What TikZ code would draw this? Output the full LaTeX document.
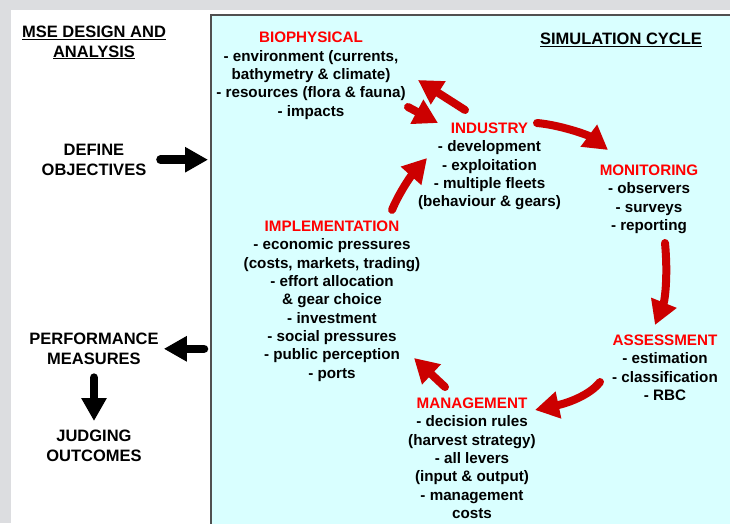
\documentclass[tikz,border=0pt]{standalone}
\usepackage{fontspec}
\setmainfont{Liberation Sans}
\usetikzlibrary{arrows.meta,positioning}
\definecolor{framegray}{RGB}{220,221,224}
\definecolor{cyclefill}{RGB}{217,255,255}
\definecolor{boxline}{RGB}{80,80,80}
\definecolor{titlered}{RGB}{255,0,0}
\definecolor{arrowred}{RGB}{204,0,0}
\newcommand{\ulhead}[1]{\setbox0\hbox{#1}\rlap{\rule[-2.2pt]{\wd0}{1.3pt}}\box0}
\newcommand{\bodysize}{\fontsize{15.2}{18.35}\selectfont\bfseries}
\newcommand{\headsize}{\fontsize{16.5}{19.5}\selectfont\bfseries}
\newcommand{\redtitle}[1]{\textcolor{titlered}{#1}}
\tikzset{
  block/.style={align=center, inner sep=0pt, anchor=north, font=\bodysize},
  sidetext/.style={align=center, inner sep=0pt, anchor=north, font=\headsize},
  cyclearrow/.style={draw=arrowred, line width=8pt, line cap=round,
    -{Triangle[length=24pt,width=26pt]}},
  sidearrow/.style={draw=black, line width=8.5pt, line cap=round,
    -{Triangle[length=23pt,width=24pt]}},
}
\begin{document}
\begin{tikzpicture}[x=1pt, y=-1pt]
        \useasboundingbox (0,0) rectangle (730,523);
        % page and frame
        \fill[framegray] (0,0) rectangle (730,523);
        \fill[white] (11,10) rectangle (730,523);
        \node[draw=boxline, fill=cyclefill, line width=1.6pt, anchor=north west,
          minimum width=540pt, minimum height=530pt, inner sep=0pt] (cycle) at (210,14) {};

        % left column
        \node[sidetext] (mse) at (94,26) {\ulhead{MSE DESIGN AND}\\\ulhead{ANALYSIS}};
        \node[sidetext] (def) at (94,144) {DEFINE\\OBJECTIVES};
        \node[sidetext] (perf) at (94,333) {PERFORMANCE\\MEASURES};
        \node[sidetext] (judge) at (94,430) {JUDGING\\OUTCOMES};

        \draw[sidearrow] ([xshift=14pt]def.east) -- ([xshift=-2pt]def.east -| cycle.west);
        \draw[sidearrow] ([xshift=-6pt]perf.east -| cycle.west) -- ([xshift=5pt]perf.east);
        \draw[sidearrow] ([yshift=-13pt]perf.south) -- ([yshift=9pt]judge.north);

        % simulation cycle
        \node[sidetext] (simtitle) at (621,33) {\ulhead{SIMULATION CYCLE}};

        \node[block] (bio) at (311,32) {\redtitle{BIOPHYSICAL}\\- environment (currents,\\bathymetry \& climate)\\- resources (flora \& fauna)\\- impacts};
        \node[block] (ind) at (489.5,122.5) {\redtitle{INDUSTRY}\\- development\\- exploitation\\- multiple fleets\\(behaviour \& gears)};
        \node[block] (mon) at (649,164.5) {\redtitle{MONITORING}\\- observers\\- surveys\\- reporting};
        \node[block] (ass) at (665,334.5) {\redtitle{ASSESSMENT}\\- estimation\\- classification\\- RBC};
        \node[block] (man) at (472,397.5) {\redtitle{MANAGEMENT}\\- decision rules\\(harvest strategy)\\- all levers\\(input \& output)\\- management\\costs};
        \node[block] (impl) at (332,220.5) {\redtitle{IMPLEMENTATION}\\- economic pressures\\(costs, markets, trading)\\- effort allocation\\\& gear choice\\- investment\\- social pressures\\- public perception\\- ports};

        % arrow ends
        \coordinate (ind-out) at (465,110);
        \coordinate (bio-in) at (418,80);
        \coordinate (bio-out) at (408,107);
        \coordinate (ind-in) at (438,123);
        \coordinate (ind-right) at (537,123);
        \coordinate (mon-in) at (608,150);
        \coordinate (mon-out) at (665,243);
        \coordinate (ass-in) at (655,325);
        \coordinate (ass-out) at (600,382);
        \coordinate (man-in) at (535,410);
        \coordinate (man-out) at (445,387);
        \coordinate (impl-in) at (414,358);
        \coordinate (impl-out) at (392,210);
        \coordinate (ind-low) at (427,158);

        \draw[cyclearrow] (ind-out) -- (bio-in);
        \draw[cyclearrow] (bio-out) -- (ind-in);
        \draw[cyclearrow] (ind-right) .. controls (560,125) and (588,135) .. (mon-in);
        \draw[cyclearrow] (mon-out) .. controls (668,275) and (665,300) .. (ass-in);
        \draw[cyclearrow] (ass-out) .. controls (590,395) and (568,403) .. (man-in);
        \draw[cyclearrow] (man-out) -- (impl-in);
        \draw[cyclearrow] (impl-out) .. controls (398,195) and (410,177) .. (ind-low);
      \end{tikzpicture}
\end{document}
